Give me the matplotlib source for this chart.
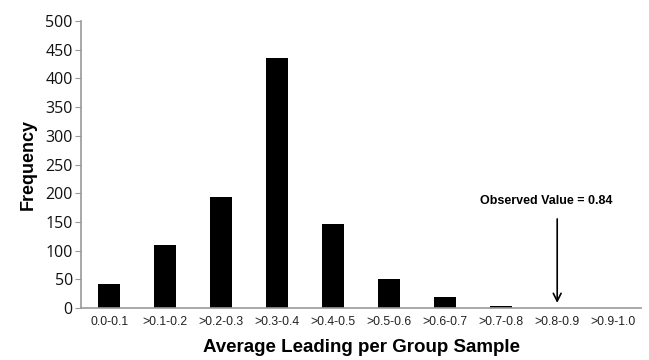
import numpy as np
import matplotlib
matplotlib.use('Agg')
import matplotlib.pyplot as plt

# Data
categories = ['0.0-0.1', '>0.1-0.2', '>0.2-0.3', '>0.3-0.4', '>0.4-0.5',
              '>0.5-0.6', '>0.6-0.7', '>0.7-0.8', '>0.8-0.9', '>0.9-1.0']
frequency = [42, 110, 193, 435, 146, 50, 19, 3, 0, 0]
yticks = [0, 50, 100, 150, 200, 250, 300, 350, 400, 450, 500]
observed_value = 0.84

fig = plt.figure(figsize=(6.49, 3.6), dpi=100)
ax = fig.add_axes([0.125, 0.1444, 0.863, 0.7973])

x = np.arange(len(categories))
ax.bar(x, frequency, width=0.4, color='black')

ax.set_xlim(-0.5, len(categories) - 0.5)
ax.set_ylim(0, 500)
ax.set_yticks(yticks)
ax.set_yticklabels([str(v) for v in yticks], fontsize=11.5, family='Open Sans', color='#111111')
ax.set_xticks(x)
ax.set_xticklabels(categories, fontsize=8.8, family='Liberation Sans', color='#222222')

for side in ['top', 'right']:
    ax.spines[side].set_visible(False)
for side in ['left', 'bottom']:
    ax.spines[side].set_color('#999999')
    ax.spines[side].set_linewidth(1.2)
ax.tick_params(axis='y', length=4, color='#999999', pad=2)
ax.tick_params(axis='x', length=0, pad=6)

ax.set_ylabel('Frequency', fontsize=13, fontweight='bold', family='Liberation Sans', labelpad=6)
ax.set_xlabel('Average Leading per Group Sample', fontsize=13.5, fontweight='bold',
              family='Liberation Sans', labelpad=8)

# observed value arrow; bins are 0.1 wide, category i covers i*0.1..(i+1)*0.1
obs_x = observed_value / 0.1 - 0.4
ax.annotate('', xy=(obs_x, 4), xytext=(obs_x, 160),
            arrowprops=dict(arrowstyle='->', color='black', lw=1.2, mutation_scale=14))
ax.text(obs_x - 0.2, 187, 'Observed Value = %.2f' % observed_value, ha='center', va='center',
        fontsize=9, fontweight='bold', family='Liberation Sans')

plt.savefig('out.png', dpi=100, facecolor='white')
